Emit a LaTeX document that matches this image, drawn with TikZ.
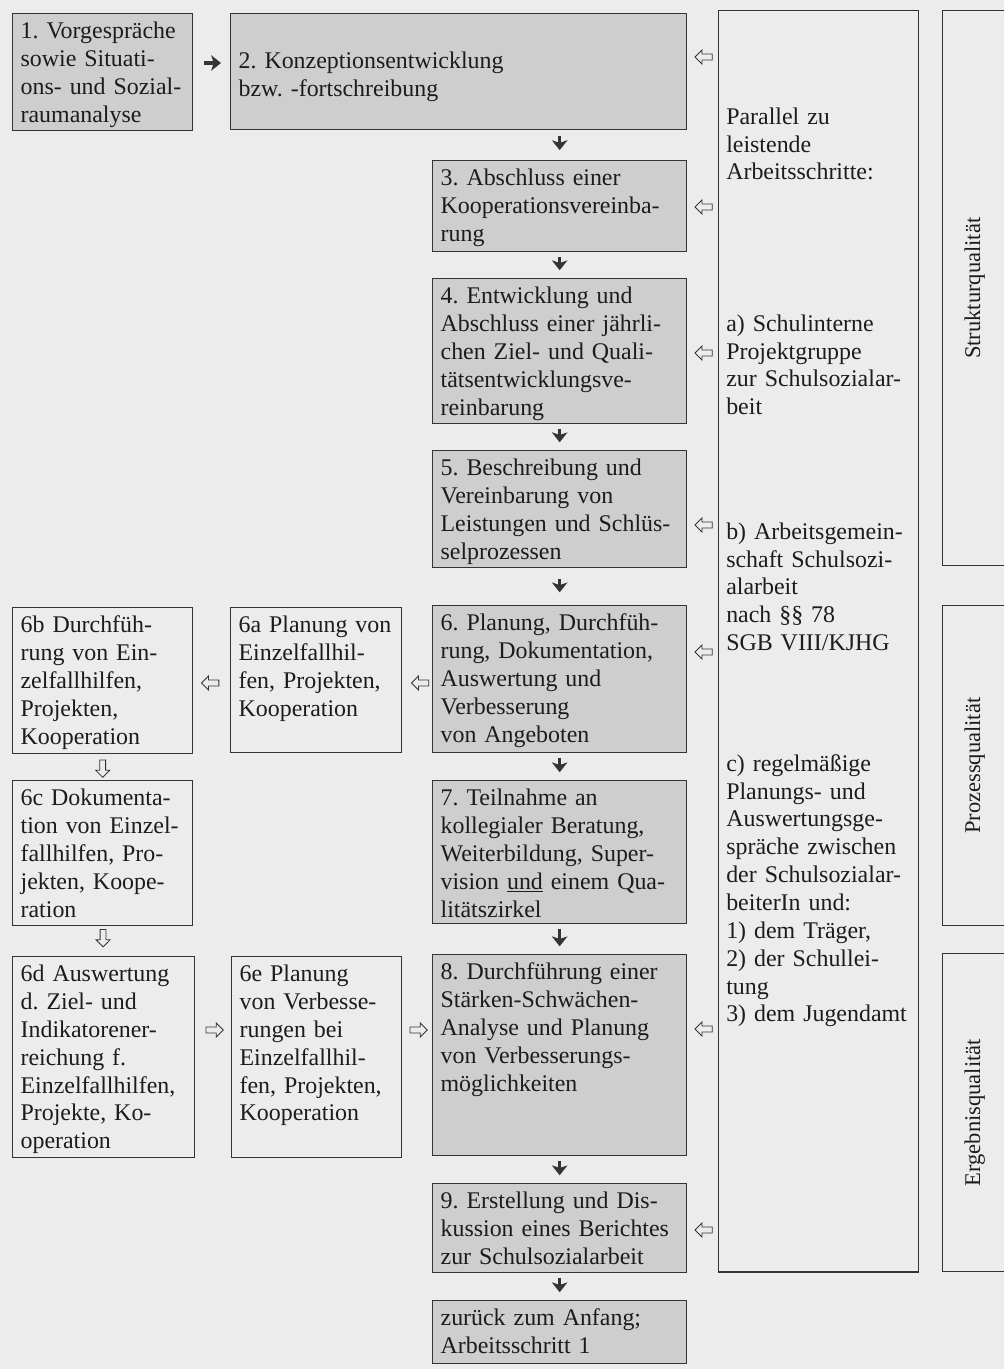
\documentclass[tikz,border=0pt]{standalone}
\usepackage{fontspec}
\setmainfont{Liberation Serif}
\usepackage{graphicx}
\usetikzlibrary{arrows.meta,calc,shapes.arrows}
\frenchspacing

\definecolor{papier}{RGB}{236,236,236}
\definecolor{kasten}{RGB}{206,206,206}
\definecolor{linie}{RGB}{52,52,52}
\definecolor{schrift}{RGB}{28,28,28}

\begin{document}
\begin{tikzpicture}[x=0.025cm,y=-0.025cm,
  every node/.style={font=\fontsize{17}{19.8}\selectfont, text=schrift},
  rahmen/.style={draw=linie, line width=0.9pt, anchor=north west,
    inner xsep=0.2cm, inner ysep=0pt, align=left, text height=0.625cm},
  schritt/.style={rahmen, fill=kasten, text width=5.95cm},
  teilschritt/.style={rahmen, text width=4.1cm},
  leerbox/.style={draw=linie, line width=0.9pt, anchor=north west, inner sep=0pt},
  randtext/.style={anchor=north west, inner sep=0pt, align=left,
    text width=4.8cm, text height=0.625cm},
  fettpfeil/.style={draw=linie, line width=2.4pt,
    -{Stealth[length=7pt, width=11pt, inset=1.8pt]}},
  hohlpfeil/.style={single arrow, draw=linie, fill=papier, line width=0.6pt,
    inner xsep=4.8pt, inner ysep=1.8pt, minimum width=0pt, minimum height=0pt,
    single arrow head extend=2.9pt, sloped, allow upside down}
]
\useasboundingbox (0,0) rectangle (1004,1369);
\clip (0,0) rectangle (1004,1369);
\fill[papier] (0,0) rectangle (1004,1369);

% Hauptschritte
\node[rahmen, fill=kasten, text width=4.1cm, text depth=2.3cm] (b1) at (12,13)
  {1. Vorgespräche\\ sowie Situati-\\ ons- und Sozial-\\ raumanalyse};
\node[rahmen, fill=kasten, text width=11cm, text height=1.375cm, text depth=1.525cm] (b2) at (230,13)
  {2. Konzeptionsentwicklung\\ bzw. -fortschreibung};
\node[schritt, text depth=1.65cm] (b3) at (432,160)
  {3. Abschluss einer\\ Kooperationsvereinba-\\ rung};
\node[schritt, text depth=3cm] (b4) at (432,278)
  {4. Entwicklung und\\ Abschluss einer jährli-\\ chen Ziel- und Quali-\\ tätsentwicklungsve-\\ reinbarung};
\node[schritt, text depth=2.3cm] (b5) at (432,450)
  {5. Beschreibung und\\ Vereinbarung von\\ Leistungen und Schlüs-\\ selprozessen};
\node[schritt, text depth=3.05cm] (b6) at (432,605)
  {6. Planung, Durchfüh-\\ rung, Dokumentation,\\ Auswertung und\\ Verbesserung\\ von Angeboten};
\node[schritt, text depth=2.95cm] (b7) at (432,780)
  {7. Teilnahme an\\ kollegialer Beratung,\\ Weiterbildung, Super-\\ vision \underline{und} einem Qua-\\ litätszirkel};
\node[schritt, text depth=4.4cm] (b8) at (432,954)
  {8. Durchführung einer\\ Stärken-Schwächen-\\ Analyse und Planung\\ von Verbesserungs-\\ möglichkeiten};
\node[schritt, text depth=1.6cm] (b9) at (432,1183)
  {9. Erstellung und Dis-\\ kussion eines Berichtes\\ zur Schulsozialarbeit};
\node[schritt, text depth=0.95cm] (b10) at (432,1300)
  {zurück zum Anfang;\\ Arbeitsschritt 1};

% Teilschritte 6a-6e
\node[teilschritt, text width=3.875cm, text depth=3cm] (b6a) at (230,607)
  {6a Planung von\\ Einzelfallhil-\\ fen, Projekten,\\ Kooperation};
\node[teilschritt, text depth=3.025cm] (b6b) at (12,607)
  {6b Durchfüh-\\ rung von Ein-\\ zelfallhilfen,\\ Projekten,\\ Kooperation};
\node[teilschritt, text depth=3cm] (b6c) at (12,780)
  {6c Dokumenta-\\ tion von Einzel-\\ fallhilfen, Pro-\\ jekten, Koope-\\ ration};
\node[teilschritt, text width=4.15cm, text depth=4.4cm] (b6d) at (12,956)
  {6d Auswertung\\ d. Ziel- und\\ Indikatorener-\\ reichung f.\\ Einzelfallhilfen,\\ Projekte, Ko-\\ operation};
\node[teilschritt, text width=3.85cm, text depth=4.4cm] (b6e) at (231,956)
  {6e Planung\\ von Verbesse-\\ rungen bei\\ Einzelfallhil-\\ fen, Projekten,\\ Kooperation};

% parallele Arbeitsschritte
\node[leerbox, minimum width=5cm, minimum height=31.525cm] (par) at (718,10) {};
\node[randtext] (parIntro) at (726,99)
  {Parallel zu\\ leistende\\ Arbeitsschritte:};
\node[randtext] (parA) at (726,306)
  {a) Schulinterne\\ Projektgruppe\\ zur Schulsozialar-\\ beit};
\node[randtext] (parB) at (726,514)
  {b) Arbeitsgemein-\\ schaft Schulsozi-\\ alarbeit\\ nach §§ 78\\ SGB VIII/KJHG};
\node[randtext] (parC) at (726,746)
  {c) regelmäßige\\ Planungs- und\\ Auswertungsge-\\ spräche zwischen\\ der Schulsozialar-\\ beiterIn und:\\ 1) dem Träger,\\ 2) der Schullei-\\ tung\\ 3) dem Jugendamt};

% Qualitaetsebenen
\node[leerbox, minimum width=1.6cm, minimum height=13.875cm,
  font=\fontsize{16}{19}\selectfont] (sq) at (942,10)
  {\rotatebox{90}{Strukturqualität}};
\node[leerbox, minimum width=1.6cm, minimum height=8cm,
  font=\fontsize{16}{19}\selectfont] (pq) at (942,605)
  {\rotatebox{90}{Prozessqualität}};
\node[leerbox, minimum width=1.6cm, minimum height=7.95cm,
  font=\fontsize{16}{19}\selectfont] (eq) at (942,953)
  {\rotatebox{90}{Ergebnisqualität}};

% Pfeile
\draw[fettpfeil, shorten <=7.8pt, shorten >=6.4pt]
  ($(b1.north east)+(0,50)$) -- ($(b2.north west)+(0,50)$);
\draw[fettpfeil, shorten <=4.3pt, shorten >=7pt] (b2.south -| b3.north) -- (b3.north);
\foreach \a/\b in {b3/b4,b4/b5,b6/b7,b7/b8,b8/b9,b9/b10}
  \draw[fettpfeil, shorten <=3.2pt, shorten >=5.5pt] (\a) -- (\b);
\draw[fettpfeil, shorten <=7.5pt, shorten >=9pt] (b5) -- (b6);

\foreach \b/\dy in {b2/44,b3/47,b4/75,b5/75,b6/47,b8/75,b9/47}
{
  \coordinate (h) at ($(\b.north east)+(0,\dy)$);
  \path (par.west |- h) -- (h) node[hohlpfeil, pos=0.42] {};
}

\coordinate (h6) at ($(b6.north west)+(0,78)$);
\path (h6) -- (b6a.east |- h6) node[hohlpfeil, pos=0.35] {};
\path (b6a.west |- h6) -- (b6b.east |- h6) node[hohlpfeil, midway] {};
\path (b6b) -- (b6c) node[hohlpfeil, midway] {};
\path (b6c) -- (b6d) node[hohlpfeil, pos=0.35] {};

\coordinate (h8) at ($(b8.north west)+(0,76)$);
\path (b6d.east |- h8) -- (b6e.west |- h8) node[hohlpfeil, midway] {};
\path (b6e.east |- h8) -- (h8) node[hohlpfeil, midway] {};
\end{tikzpicture}
\end{document}
